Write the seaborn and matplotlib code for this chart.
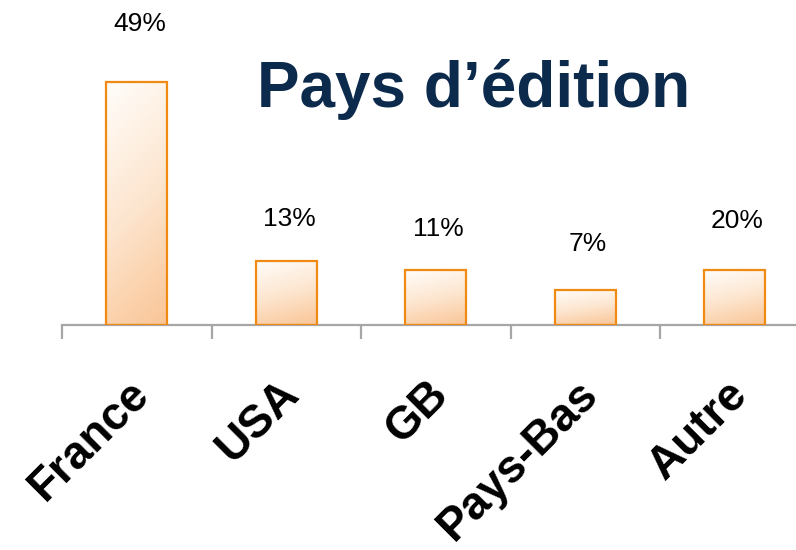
import numpy as np
import pandas as pd
import seaborn as sns
import matplotlib.pyplot as plt
import matplotlib.transforms as mtransforms
from matplotlib.colors import LinearSegmentedColormap

# data
pays = ['France', 'USA', 'GB', 'Pays-Bas', 'Autre']
hauteurs = [49, 13, 11, 7, 11]          # bar heights as drawn
etiquettes = ['49%', '13%', '11%', '7%', '20%']  # printed labels

df = pd.DataFrame({'pays': pays, 'valeur': hauteurs})

sns.set_theme(style='white')
plt.rcParams['font.family'] = ['Liberation Sans', 'DejaVu Sans']

fig = plt.figure(figsize=(7.96, 5.5), dpi=100)
# axes spans from x=62px to the right edge, baseline at y=325px
ax = fig.add_axes([62 / 796, 225 / 550, 734 / 796, 297.5 / 550])

sns.barplot(data=df, x='pays', y='valeur', ax=ax, width=0.41,
            color='white', edgecolor='#f08a12', linewidth=1.6, zorder=3)

# gradient fill inside each bar (light on top, peach at bottom right)
cmap = LinearSegmentedColormap.from_list('peche', ['#fffdfa', '#fde6d0', '#fac596'])
ny, nx = 100, 30
yy, xx = np.mgrid[0:1:ny * 1j, 0:1:nx * 1j]
grad = 0.8 * (1 - yy) + 0.2 * xx
for p in ax.patches:
    x0, y0 = p.get_x(), p.get_y()
    w, h = p.get_width(), p.get_height()
    im = ax.imshow(grad, cmap=cmap, aspect='auto', origin='lower',
                   extent=[x0, x0 + w, y0, y0 + h],
                   zorder=2, vmin=0, vmax=1)
    im.set_clip_path(p)
    p.set_facecolor('none')

# percent labels above bars
decalages = [60, 44, 44, 48, 52]  # px above bar top
for p, txt, d in zip(ax.patches, etiquettes, decalages):
    ax.annotate(txt, (p.get_x() + p.get_width() / 2, p.get_height()),
                xytext=(2, d * 0.72 - 1.5), textcoords='offset points',
                ha='center', va='center', fontsize=19, color='black')

# axis styling
for s in ['top', 'right', 'left']:
    ax.spines[s].set_visible(False)
ax.spines['bottom'].set_color('#a6a6a6')
ax.spines['bottom'].set_linewidth(1.6)
ax.set_yticks([])
ax.set_xlabel('')
ax.set_ylabel('')
ax.set_xticks(np.arange(-0.5, len(pays), 1), minor=True)
ax.tick_params(axis='x', which='minor', length=10, width=1.6,
               color='#a6a6a6', direction='out', bottom=True)
ax.tick_params(axis='x', which='major', length=0, pad=45)
ax.set_xticks(range(len(pays)))
ax.set_xticklabels(pays, rotation=45, ha='right', va='center',
                   rotation_mode='anchor', fontsize=33, fontweight='bold',
                   color='black')
shift = mtransforms.ScaledTranslation(6 / 100, 0, fig.dpi_scale_trans)
for lab in ax.get_xticklabels():
    lab.set_transform(lab.get_transform() + shift)

ax.set_xlim(-0.5, -0.5 + 734 / 149.5)
ax.set_ylim(0, 60)

fig.text(474 / 796, 1 - 89 / 550, 'Pays d\u2019édition', ha='center', va='center',
         fontsize=46, fontweight='bold', color='#0c2a4c')

fig.savefig('out.png', dpi=100)
